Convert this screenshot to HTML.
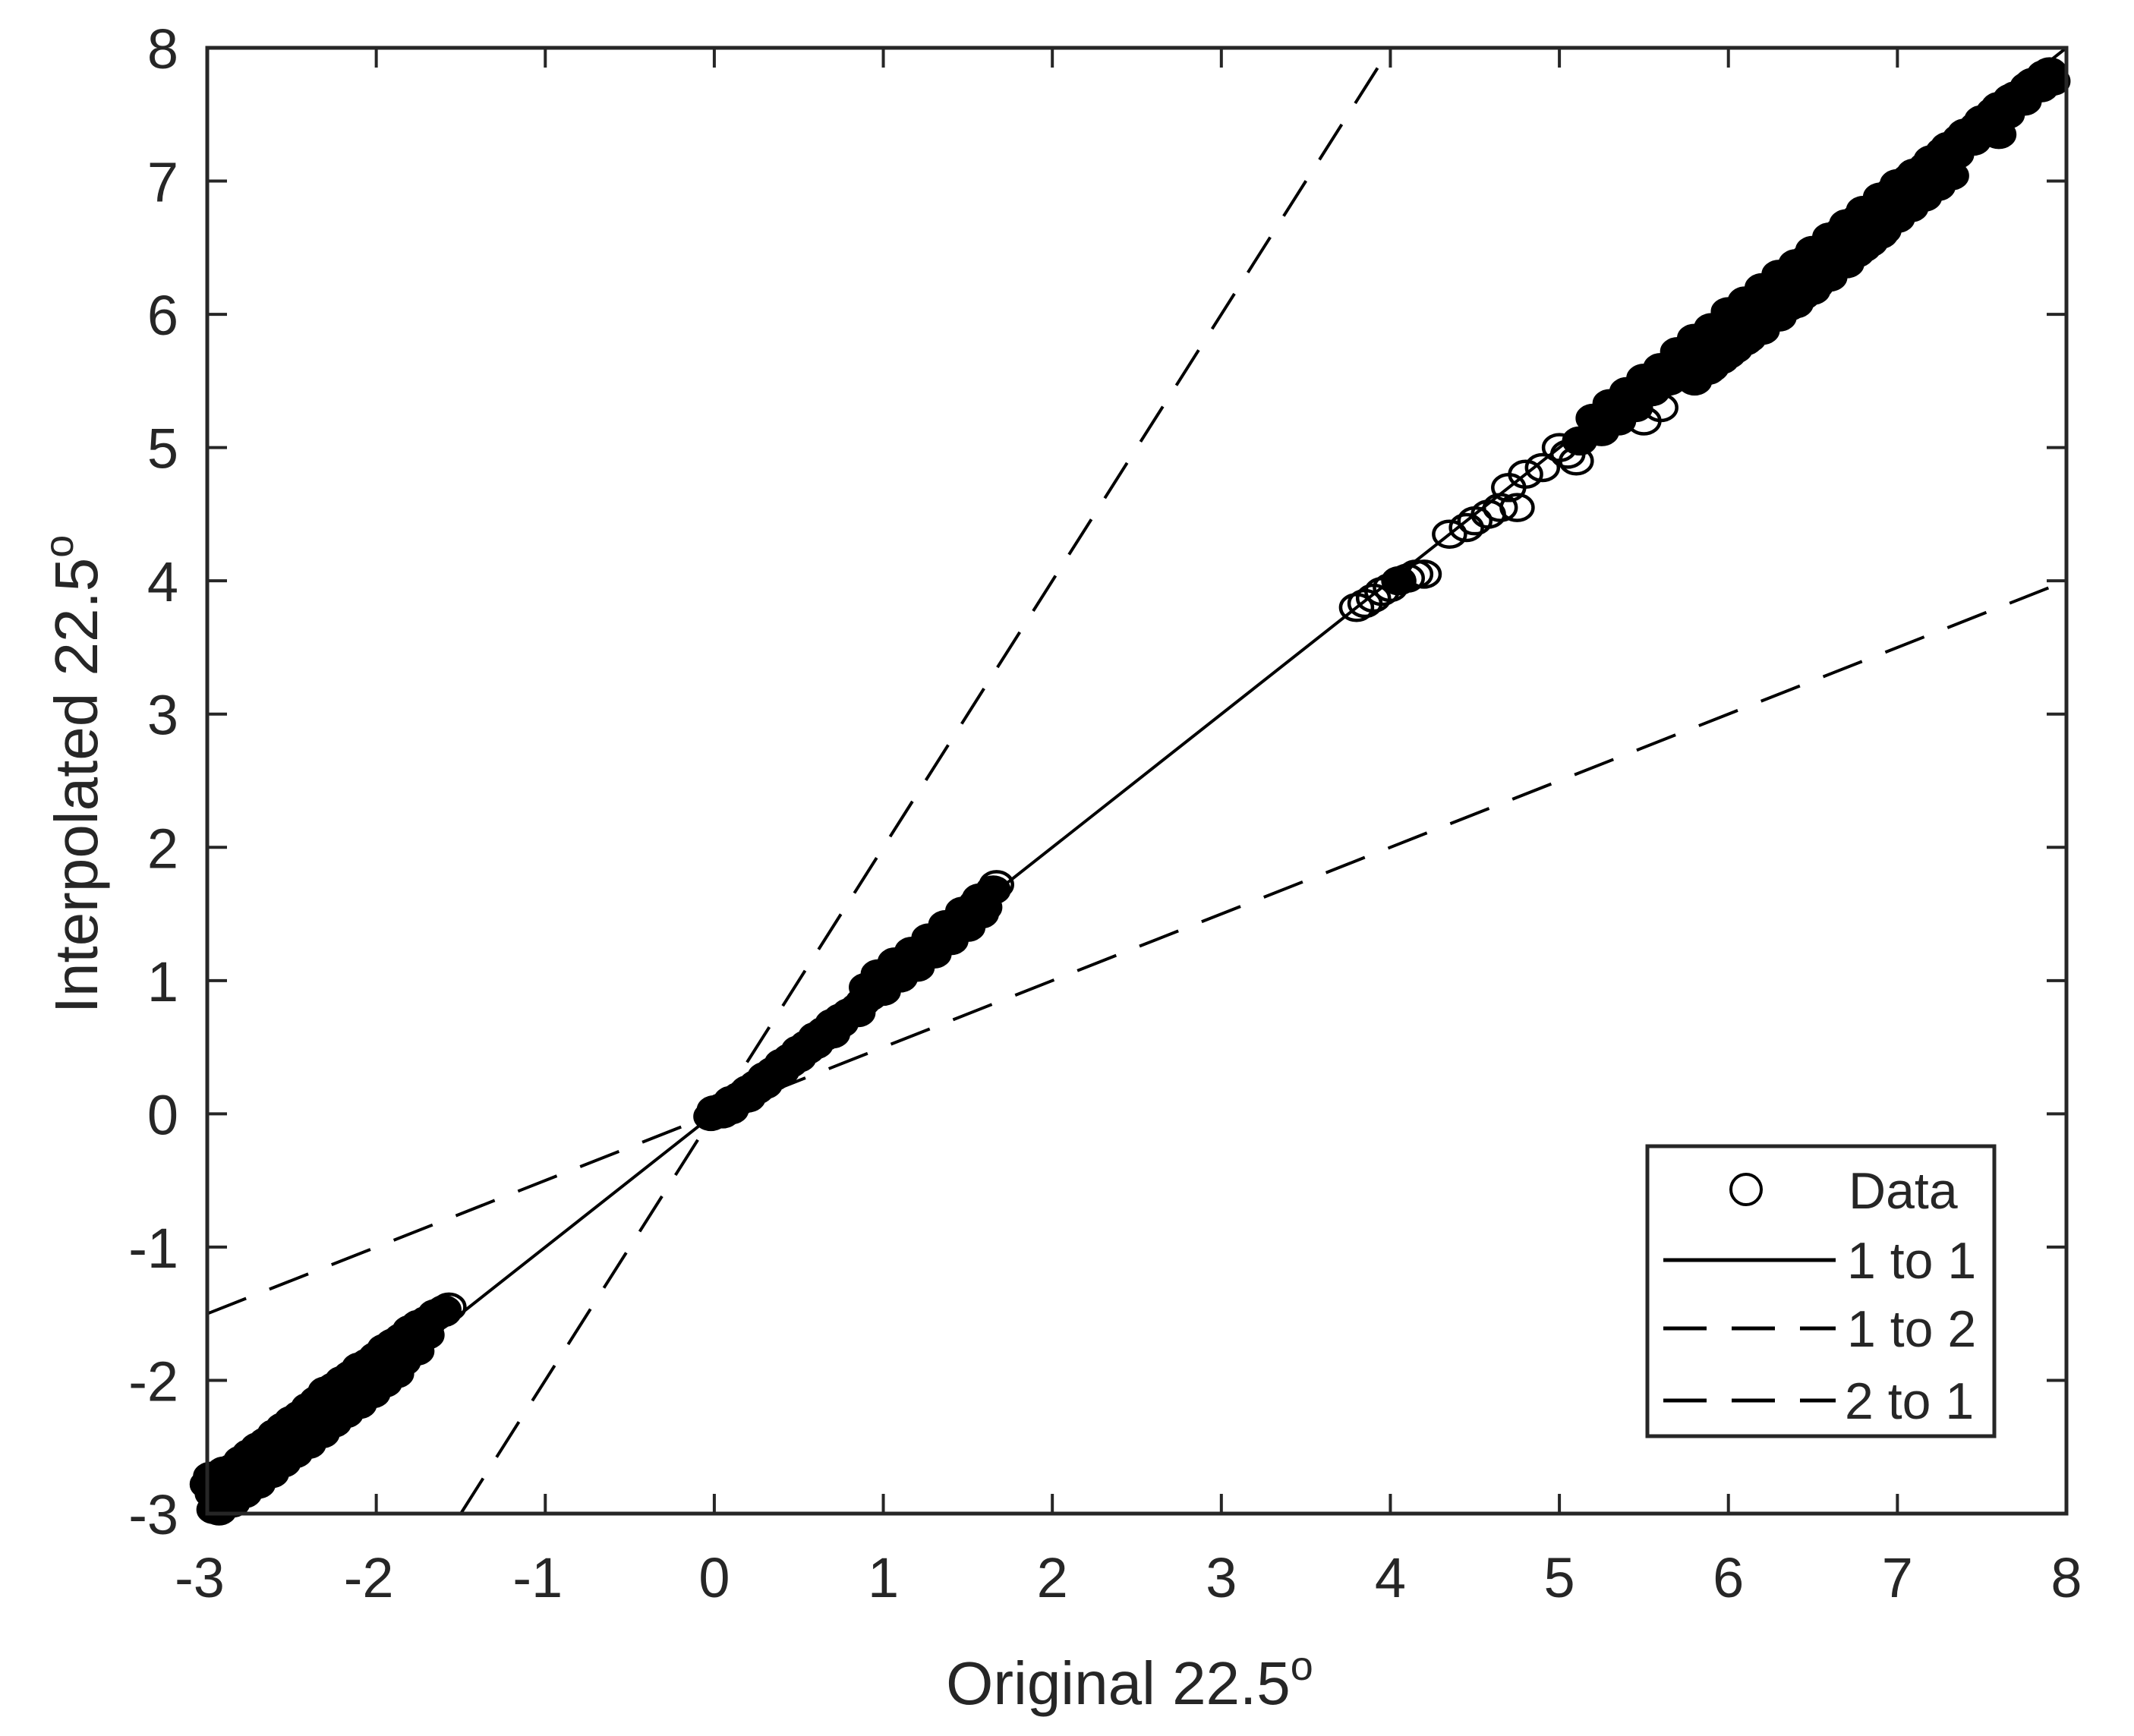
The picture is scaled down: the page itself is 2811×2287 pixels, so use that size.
<!DOCTYPE html>
<html><head><meta charset="utf-8"><style>
html,body{margin:0;padding:0;background:#fff}
svg{display:block}
text{font-family:"Liberation Sans",Arial,sans-serif;fill:#262626}
</style></head><body>
<svg id="chart" width="2811" height="2287" viewBox="0 0 2811 2287" xmlns="http://www.w3.org/2000/svg">
<rect x="0" y="0" width="2811" height="2287" fill="#fff"/>
<g id="lines"></g>
<g id="points"></g>
<g id="axes"></g>
<text x="1488" y="2245" font-size="80" text-anchor="middle">Original 22.5<tspan dy="-32" font-size="54">o</tspan></text>
<text transform="translate(128,1020) rotate(-90)" font-size="80" text-anchor="middle">Interpolated 22.5<tspan dy="-32" font-size="54">o</tspan></text>
<g>
<rect x="2170" y="1510" width="457" height="382" fill="#fff" stroke="#262626" stroke-width="5"/>
<ellipse cx="2300" cy="1567" rx="20" ry="20" fill="none" stroke="#000" stroke-width="4"/>
<text x="2435" y="1592" font-size="68" fill="#000">Data</text>
<line x1="2191" y1="1660" x2="2418" y2="1660" stroke="#000" stroke-width="5"/>
<text x="2433" y="1684" font-size="68">1 to 1</text>
<line x1="2191" y1="1750" x2="2418" y2="1750" stroke="#000" stroke-width="5" stroke-dasharray="57 33"/>
<text x="2433" y="1774" font-size="68">1 to 2</text>
<line x1="2191" y1="1845" x2="2418" y2="1845" stroke="#000" stroke-width="5" stroke-dasharray="57 33"/>
<text x="2430" y="1869" font-size="68">2 to 1</text>
</g>
</svg>
<script>
const xTicks = [-3,-2,-1,0,1,2,3,4,5,6,7,8];
const yTicks = [-3,-2,-1,0,1,2,3,4,5,6,7,8];
const xDomain = [-3, 8];
const yDomain = [-3, 8];
const dataX = [
-3.0,-2.98,-2.95,-2.9,-2.85,-2.8,-2.75,-2.7,-2.65,-2.6,-2.55,-2.5,-2.45,-2.4,-2.35,-2.3,-2.25,-2.2,-2.15,-2.1,-2.05,-2.0,-1.95,-1.9,-1.85,-1.8,-1.75,-1.7,-1.65,-1.6,-1.57,
-2.97,-2.9,-2.82,-2.75,-2.68,-2.6,-2.52,-2.45,-2.38,-2.3,-2.22,-2.15,-2.08,-2.0,-1.92,-1.85,-1.78,-1.7,
-2.93,-2.85,-2.78,-2.7,-2.62,-2.55,-2.48,-2.4,-2.32,-2.25,-2.18,-2.1,-2.02,-1.95,-1.88,
-2.95,-2.9,-2.85,-2.8,-2.75,-2.7,-2.65,-2.6,-2.55,-2.5,-2.45,-2.4,-2.35,-2.3,-2.25,-2.2,-2.15,-2.1,-2.05,-2.0,-1.95,-1.9,-1.85,-1.8,-1.75,-1.7,-1.65,-1.6,
-2.96,-2.88,-2.8,-2.72,-2.64,-2.56,-2.48,-2.4,-2.32,-2.24,-2.16,-2.08,-2.0,-1.92,-1.84,-1.76,
-0.02,0.0,0.02,0.05,0.1,0.15,0.2,0.25,0.3,0.35,0.4,0.45,0.5,0.55,0.6,0.65,0.7,0.75,0.8,0.85,0.88,0.1,0.2,0.3,0.4,0.5,0.6,0.7,
0.05,0.15,0.25,0.35,0.45,0.55,0.65,0.75,0.85,
0.9,0.95,1.0,1.05,1.1,1.15,1.2,1.25,1.3,1.35,1.4,1.45,1.5,1.55,1.6,1.65,1.67,1.0,1.1,1.2,1.3,1.4,1.5,1.58,
0.92,1.02,1.12,1.22,1.32,1.42,1.52,1.6,0.97,1.07,1.17,1.27,1.37,1.47,1.57,
3.8,3.85,3.9,3.95,4.0,4.05,4.1,4.15,4.2,
4.35,4.45,4.5,4.58,4.65,4.7,4.75,4.8,4.9,5.0,5.05,5.1,5.12,
5.2,5.3,5.4,5.5,5.6,5.7,5.8,5.9,6.0,6.1,6.2,6.3,6.4,6.5,6.6,6.7,6.8,6.9,7.0,7.1,7.2,7.3,7.4,7.5,7.6,7.7,7.8,7.9,
5.25,5.35,5.45,5.55,5.65,5.75,5.85,5.95,6.05,6.15,6.25,6.35,6.45,6.55,6.65,6.75,6.85,6.95,7.05,7.15,7.25,7.35,7.45,7.55,7.65,7.75,7.85,7.92,
5.9,6.0,6.1,6.2,6.3,6.4,6.5,6.6,6.7,6.8,6.9,7.0,7.1,5.5,5.6,5.75,7.3,7.6,
5.22,5.32,5.42,5.52,5.62,5.72,5.82,5.92,6.02,6.12,6.22,6.32,6.42,6.52,6.62,6.72,6.82,6.92,7.02,7.12,7.22,7.32,7.42,7.52,7.62,7.72,7.82,
5.8,5.88,5.96,6.04,6.12,6.2,6.28,6.36,6.44,6.52,6.6,6.68,6.76,6.84,6.92,7.0,7.08,7.16,7.24,7.32,
5.27,5.37,5.47,5.57,5.67,5.77,5.87,5.97,6.07,6.17,6.27,6.37,6.47,6.57,6.67,6.77,6.87,6.97,7.07,7.17,7.27,7.37,7.47,7.57,7.67,7.77,7.87,
5.9,6.0,6.1,6.2,6.3,6.4,6.5,6.6,6.7,6.8,6.9,7.0,7.1,7.2
];
const dataY = [
-2.78,-2.72,-2.74,-2.68,-2.66,-2.6,-2.55,-2.5,-2.46,-2.4,-2.35,-2.3,-2.26,-2.2,-2.15,-2.08,-2.05,-2.0,-1.96,-1.9,-1.87,-1.82,-1.76,-1.72,-1.68,-1.62,-1.58,-1.55,-1.5,-1.47,-1.45,
-2.85,-2.82,-2.75,-2.68,-2.6,-2.55,-2.46,-2.4,-2.32,-2.25,-2.18,-2.1,-2.02,-1.96,-1.88,-1.8,-1.72,-1.66,
-2.98,-2.92,-2.85,-2.78,-2.7,-2.62,-2.55,-2.48,-2.4,-2.32,-2.25,-2.18,-2.1,-2.02,-1.95,
-2.83,-2.77,-2.74,-2.67,-2.64,-2.58,-2.52,-2.49,-2.42,-2.38,-2.33,-2.27,-2.24,-2.17,-2.13,-2.09,-2.02,-1.98,-1.94,-1.87,-1.84,-1.77,-1.74,-1.68,-1.62,-1.59,-1.52,-1.49,
-2.97,-2.9,-2.83,-2.73,-2.66,-2.58,-2.5,-2.42,-2.33,-2.27,-2.18,-2.1,-2.02,-1.93,-1.86,-1.78,
-0.02,0.03,0.0,0.05,0.1,0.13,0.18,0.22,0.28,0.32,0.38,0.42,0.48,0.52,0.58,0.62,0.68,0.72,0.76,0.8,0.84,0.03,0.12,0.22,0.32,0.42,0.52,0.6,
0.0,0.1,0.18,0.28,0.38,0.48,0.58,0.68,0.76,
0.95,0.98,1.0,1.08,1.12,1.15,1.22,1.25,1.3,1.36,1.4,1.46,1.52,1.58,1.62,1.68,1.72,0.92,1.02,1.1,1.2,1.3,1.4,1.5,
0.88,1.0,1.06,1.16,1.26,1.36,1.46,1.55,1.05,1.14,1.22,1.32,1.42,1.52,1.62,
3.8,3.83,3.87,3.92,3.95,4.0,4.02,4.05,4.05,
4.35,4.4,4.45,4.5,4.55,4.7,4.55,4.8,4.85,5.0,4.95,4.9,5.05,
5.22,5.33,5.42,5.52,5.6,5.72,5.82,5.9,6.02,6.1,6.2,6.3,6.38,6.48,6.58,6.68,6.78,6.88,6.98,7.06,7.16,7.26,7.36,7.46,7.56,7.64,7.74,7.82,
5.12,5.2,5.3,5.42,5.5,5.6,5.7,5.78,5.86,5.96,6.06,6.16,6.26,6.36,6.46,6.56,6.66,6.78,6.9,7.0,7.1,7.2,7.3,7.4,7.5,7.6,7.7,7.75,
5.6,5.7,5.8,5.88,5.98,6.08,6.18,6.28,6.38,6.5,6.6,6.75,6.9,5.2,5.3,5.55,7.05,7.35,
5.14,5.25,5.33,5.42,5.53,5.62,5.71,5.83,5.92,6.02,6.11,6.22,6.32,6.41,6.52,6.62,6.71,6.82,6.91,7.02,7.12,7.22,7.31,7.42,7.52,7.61,7.72,
5.5,5.58,5.66,5.74,5.82,5.9,5.98,6.06,6.14,6.22,6.3,6.38,6.46,6.54,6.63,6.72,6.8,6.88,6.96,7.04,
5.23,5.31,5.42,5.52,5.61,5.72,5.82,5.91,6.02,6.12,6.21,6.32,6.42,6.51,6.62,6.72,6.81,6.92,7.02,7.11,7.22,7.32,7.41,7.52,7.62,7.71,7.8,
5.68,5.78,5.88,5.98,6.08,6.18,6.28,6.38,6.48,6.58,6.68,6.78,6.88,6.98
];
const refSlopes = [1, 2, 0.5];
const refNames = ['line-1to1','line-1to2','line-2to1'];

const L=273, R=2722, T=63, B=1994;
const sx = v => L + (v - xDomain[0]) / (xDomain[1]-xDomain[0]) * (R-L);
const sy = v => B - (v - yDomain[0]) / (yDomain[1]-yDomain[0]) * (B-T);
const NS='http://www.w3.org/2000/svg';
function mk(tag, attrs){const e=document.createElementNS(NS,tag);for(const k in attrs)e.setAttribute(k,attrs[k]);return e;}

const lines=document.getElementById('lines');
refSlopes.forEach((m,i)=>{
  let x0=xDomain[0], x1=xDomain[1];
  x0=Math.max(x0, yDomain[0]/m); x1=Math.min(x1, yDomain[1]/m);
  const ln=mk('line',{x1:sx(x0),y1:sy(m*x0),x2:sx(x1),y2:sy(m*x1),stroke:'#000','stroke-width':4});
  if(i>0) ln.setAttribute('stroke-dasharray','55 33');
  
  
  lines.appendChild(ln);
});

// overplotted regions look solid in the reference: fill markers that have many close neighbours
function neighbours(i){
  let n=0;
  for(let j=0;j<dataX.length;j++){
    if(j===i) continue;
    const dx=dataX[j]-dataX[i], dy=dataY[j]-dataY[i];
    if(dx*dx+dy*dy<0.16*0.16) n++;
  }
  return n;
}
const pts=document.getElementById('points');
for(let i=0;i<dataX.length;i++){
  const dense=neighbours(i)>=5;
  const c=mk('ellipse',{cx:sx(dataX[i]),cy:sy(dataY[i]),rx:21,ry:17,fill:dense?'#000':'none',stroke:'#000','stroke-width':4.5});
  
  
  pts.appendChild(c);
}

const ax=document.getElementById('axes');
const frame=mk('rect',{x:L,y:T,width:R-L,height:B-T,fill:'none',stroke:'#262626','stroke-width':5});


ax.appendChild(frame);
const tl=26;
xTicks.forEach(v=>{
  const x=sx(v);
  const t1=mk('line',{x1:x,y1:B,x2:x,y2:B-tl,stroke:'#262626','stroke-width':4});
  
  
  ax.appendChild(t1);
  const t2=mk('line',{x1:x,y1:T,x2:x,y2:T+tl,stroke:'#262626','stroke-width':4});
  
  
  ax.appendChild(t2);
  const lb=mk('text',{x:x-(v<0?10:0),y:B+110,'font-size':74,'text-anchor':'middle'});
  lb.textContent=String(v);
  
  
  ax.appendChild(lb);
});
yTicks.forEach(v=>{
  const y=sy(v);
  const t1=mk('line',{x1:L,y1:y,x2:L+tl,y2:y,stroke:'#262626','stroke-width':4});
  
  
  ax.appendChild(t1);
  const t2=mk('line',{x1:R,y1:y,x2:R-tl,y2:y,stroke:'#262626','stroke-width':4});
  
  
  ax.appendChild(t2);
  const lb=mk('text',{x:L-38,y:y+27,'font-size':74,'text-anchor':'end'});
  lb.textContent=String(v);
  
  
  ax.appendChild(lb);
});
</script>
</body></html>
